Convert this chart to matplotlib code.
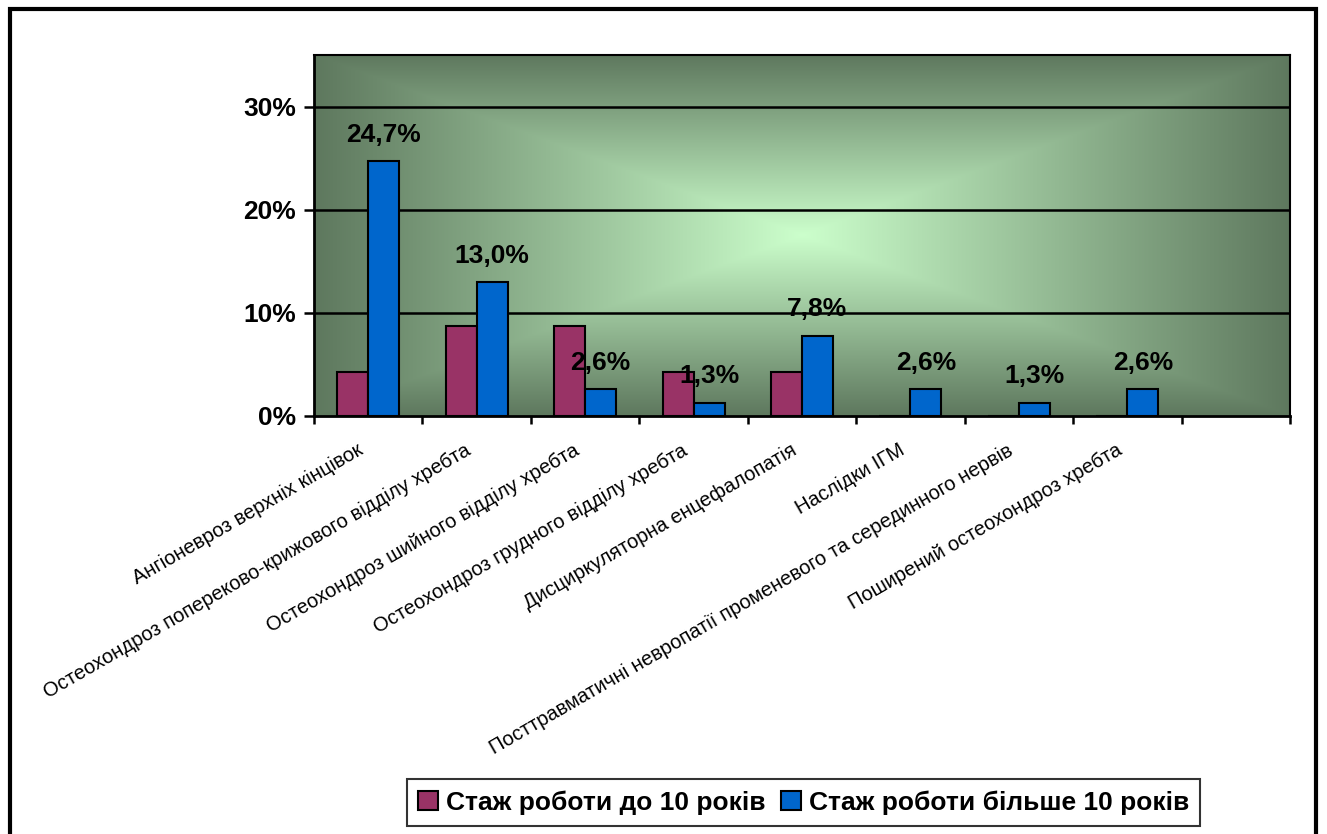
import numpy as np
import matplotlib
matplotlib.use("Agg")
import matplotlib.pyplot as plt
from matplotlib.patches import Rectangle, Patch
from matplotlib.ticker import FuncFormatter

# ============================================================
# Data
# ============================================================
categories = [
    "Ангіоневроз верхніх кінцівок",
    "Остеохондроз попереково-крижового відділу хребта",
    "Остеохондроз шийного відділу хребта",
    "Остеохондроз грудного відділу хребта",
    "Дисциркуляторна енцефалопатія",
    "Наслідки ІГМ",
    "Посттравматичні невропатії променевого та серединного нервів",
    "Поширений остеохондроз хребта",
    "",
]
under_10 = [4.3, 8.7, 8.7, 4.3, 4.3, 0.0, 0.0, 0.0, np.nan]
over_10 = [24.7, 13.0, 2.6, 1.3, 7.8, 2.6, 1.3, 2.6, np.nan]
series_names = ["Стаж роботи до 10 років", "Стаж роботи більше 10 років"]
y_ticks = [0, 10, 20, 30]

# ============================================================
# Style
# ============================================================
plt.rcParams["font.family"] = ["Liberation Sans", "DejaVu Sans"]

col_under = "#993366"
col_over = "#0066cc"
light = np.array([204, 255, 204]) / 255
dark = np.array([94, 120, 94]) / 255

fig = plt.figure(figsize=(13.27, 8.34), dpi=100)
ax = fig.add_axes([0.2366, 0.5012, 0.9721 - 0.2366, 0.9341 - 0.5012])

# rectangular "from centre" gradient for the plot area
nx, ny = 400, 200
gx = np.linspace(-1, 1, nx)
gy = np.linspace(-1, 1, ny)
GX, GY = np.meshgrid(gx, gy)
t = np.maximum(np.abs(GX), np.abs(GY))
img = light[None, None, :] * (1 - t[..., None]) + dark[None, None, :] * t[..., None]
ax.imshow(img, extent=[0, 1, 0, 1], transform=ax.transAxes, aspect="auto",
          zorder=0, interpolation="bilinear")

x = np.arange(len(categories))
w = 0.286
ax.bar(x - w / 2, under_10, w, color=col_under, edgecolor="black", linewidth=1.5, zorder=3)
ax.bar(x + w / 2, over_10, w, color=col_over, edgecolor="black", linewidth=1.5, zorder=3)

for xi, v in zip(x, over_10):
    if np.isnan(v):
        continue
    ax.annotate(f"{v:.1f}%".replace(".", ","), (xi + w / 2, v), xytext=(0, 19),
                textcoords="offset points", ha="center", va="center",
                fontsize=19, fontweight="bold", zorder=5)

ax.set_xlim(-0.5, len(categories) - 0.5)
ax.set_ylim(0, 35)

# grid
for yv in y_ticks[1:]:
    ax.axhline(yv, color="black", lw=1.8, zorder=1)

ax.set_yticks(y_ticks)
ax.yaxis.set_major_formatter(FuncFormatter(lambda v, p: f"{v:.0f}%"))
ax.tick_params(axis="y", length=7, width=1.8, pad=6, labelsize=19)
for lab in ax.get_yticklabels():
    lab.set_fontweight("bold")

# category boundaries as ticks, names as rotated texts under each category
ax.set_xticks(np.arange(len(categories) + 1) - 0.5)
ax.set_xticklabels([])
ax.tick_params(axis="x", which="major", length=6, width=1.8)
for xi, name in zip(x, categories):
    ax.annotate(name, (xi, 0), xycoords=("data", "axes fraction"),
                xytext=(-7, -33), textcoords="offset pixels",
                rotation=30, ha="right", va="center", rotation_mode="anchor",
                fontsize=14.5, annotation_clip=False)

for s in ax.spines.values():
    s.set_linewidth(1.5)
    s.set_color("black")
ax.spines["left"].set_linewidth(2)
ax.spines["bottom"].set_linewidth(2)

# legend
handles = [Patch(facecolor=col_under, edgecolor="black", linewidth=1.5),
           Patch(facecolor=col_over, edgecolor="black", linewidth=1.5)]
leg = fig.legend(handles, series_names, loc="center", bbox_to_anchor=(0.6056, 0.0378),
                 ncol=2, frameon=True, fancybox=False, edgecolor="black",
                 handlelength=0.75, handleheight=0.75, handletextpad=0.3,
                 columnspacing=0.6, borderpad=0.42, borderaxespad=0,
                 prop={"weight": "bold", "size": 19})
leg.get_frame().set_linewidth(1.5)

# outer chart frame
fig.patches.append(Rectangle((10 / 1327, -0.05), (1316 - 10) / 1327, 1 - 9 / 834 + 0.05,
                             transform=fig.transFigure, fill=False, edgecolor="black",
                             linewidth=3, clip_on=False))

fig.savefig("out.png", dpi=100)
